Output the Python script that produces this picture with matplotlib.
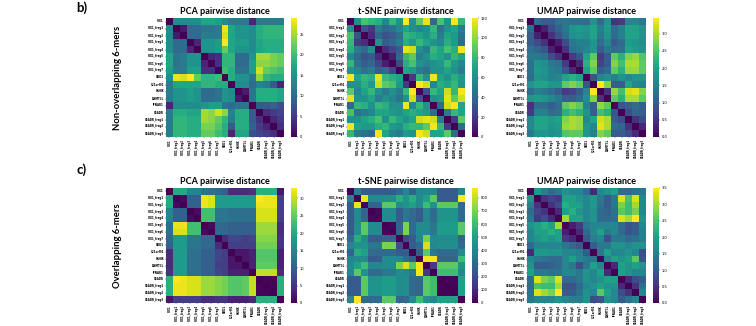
import numpy as np
import matplotlib
matplotlib.use("Agg")
import matplotlib.pyplot as plt
import seaborn as sns

# Sequence labels (rows and columns of every matrix)
labels = ["SIX1", "SIX1_frag1", "SIX1_frag2", "SIX1_frag3", "SIX1_frag4",
          "SIX1_frag5", "SIX1_frag6", "SIX1_frag7", "SOD1", "C21orf91",
          "HUNK", "DNMT3L", "IFNAR1", "CSADR", "CSADR_frag1",
          "CSADR_frag2", "CSADR_frag3"]

# Upper triangles (row i holds columns i+1 .. 16) of the pairwise distance matrices
pca_nonoverlap = [
    [14, 14, 14, 14, 17, 17, 16, 14, 12, 12, 12, 3, 12, 12, 12, 12],
    [2, 10, 10, 11, 11, 12, 28, 17, 15, 15, 14, 18, 19, 19, 19],
    [10, 10, 12, 12, 12, 27, 17, 15, 15, 14, 18, 19, 19, 19],
    [3, 15, 15, 16, 29, 17, 16, 16, 14, 17, 18, 18, 18],
    [15, 15, 16, 22, 17, 15, 15, 14, 17, 18, 18, 18],
    [3, 4, 19, 19, 10, 10, 15, 25, 25, 23, 22],
    [4, 19, 19, 10, 10, 16, 24, 24, 23, 22],
    [20, 18, 11, 11, 16, 27, 22, 21, 20],
    [18, 15, 15, 11, 24, 19, 18, 18],
    [14, 14, 10, 13, 12, 8, 3],
    [2, 11, 18, 18, 18, 17],
    [11, 18, 18, 18, 17],
    [8, 8, 9, 7],
    [4, 5, 6],
    [3, 5],
    [4],
]

tsne_nonoverlap = [
    [60, 85, 80, 75, 55, 80, 60, 120, 60, 90, 115, 40, 85, 60, 118, 80],
    [30, 20, 50, 40, 45, 55, 70, 60, 55, 60, 80, 45, 60, 70, 50],
    [15, 40, 30, 35, 45, 80, 75, 70, 60, 75, 50, 70, 65, 45],
    [60, 35, 40, 50, 75, 65, 80, 70, 60, 55, 75, 65, 40],
    [15, 25, 35, 115, 110, 60, 50, 80, 70, 85, 75, 118],
    [10, 40, 80, 90, 50, 60, 75, 70, 60, 80, 70],
    [25, 75, 85, 60, 55, 60, 65, 80, 65, 55],
    [70, 65, 50, 45, 60, 60, 70, 60, 50],
    [20, 80, 60, 118, 70, 60, 75, 65],
    [120, 110, 55, 75, 70, 80, 60],
    [30, 80, 70, 110, 80, 118],
    [60, 65, 115, 90, 110],
    [40, 110, 118, 70],
    [50, 80, 70],
    [20, 90],
    [40],
]

umap_nonoverlap = [
    [1.2, 1.0, 1.0, 1.3, 1.4, 1.3, 1.3, 1.2, 1.8, 1.2, 1.8, 0.5, 0.6, 1.6, 1.6, 1.4],
    [0.3, 0.8, 1.1, 1.4, 1.8, 1.9, 1.8, 2.0, 1.5, 1.9, 1.2, 1.5, 2.0, 2.0, 1.8],
    [0.5, 0.9, 1.3, 1.7, 1.8, 1.7, 2.0, 1.4, 1.8, 1.2, 1.5, 2.0, 2.0, 1.8],
    [0.3, 0.8, 1.4, 1.5, 1.5, 1.8, 1.2, 1.6, 1.0, 1.2, 1.9, 1.8, 1.7],
    [0.5, 1.3, 1.4, 1.6, 1.8, 1.0, 1.4, 1.2, 1.3, 2.0, 1.9, 1.8],
    [0.6, 0.9, 2.0, 2.6, 0.6, 1.0, 2.6, 2.2, 2.8, 2.9, 2.5],
    [0.4, 2.2, 2.8, 0.7, 1.0, 2.8, 2.4, 3.0, 3.0, 2.6],
    [2.0, 2.6, 1.0, 1.2, 2.6, 2.2, 2.9, 2.9, 2.6],
    [0.9, 1.6, 1.7, 1.5, 1.8, 1.6, 1.8, 1.8],
    [3.45, 2.8, 1.0, 1.0, 2.0, 1.6, 1.5],
    [0.5, 2.9, 2.4, 3.2, 3.3, 2.8],
    [2.6, 2.2, 3.0, 3.0, 2.6],
    [0.9, 1.0, 1.2, 1.0],
    [0.8, 1.1, 1.0],
    [0.5, 0.8],
    [0.4],
]

pca_overlap = [
    [20, 20, 15, 15, 12, 12, 11, 10, 4, 4, 4, 5, 21, 21, 21, 2],
    [1, 10, 10, 32, 31, 18, 18, 18, 18, 18, 18, 33, 32, 32, 6],
    [10, 10, 32, 31, 18, 18, 18, 18, 18, 18, 32, 32, 32, 6],
    [1, 23, 23, 13, 13, 12, 12, 12, 12, 31, 31, 31, 6],
    [23, 23, 13, 13, 12, 12, 12, 12, 31, 31, 31, 6],
    [1, 11, 11, 10, 10, 10, 10, 28, 28, 28, 4],
    [11, 11, 10, 10, 10, 10, 28, 28, 28, 4],
    [4, 7, 7, 6, 7, 27, 27, 27, 5],
    [6, 6, 6, 6, 26, 26, 26, 5],
    [2, 2, 3, 24, 24, 24, 3],
    [2, 3, 24, 24, 24, 3],
    [3, 25, 25, 25, 3],
    [30, 30, 30, 4],
    [0.5, 0.5, 21],
    [0.5, 21],
    [21],
]

tsne_overlap = [
    [380, 250, 250, 250, 250, 250, 300, 400, 280, 400, 420, 400, 250, 250, 250, 400],
    [850, 420, 420, 430, 430, 550, 450, 550, 420, 500, 650, 250, 250, 250, 875],
    [280, 280, 650, 650, 420, 450, 500, 420, 600, 450, 650, 650, 650, 300],
    [20, 420, 420, 250, 350, 300, 250, 400, 300, 450, 450, 450, 300],
    [420, 420, 250, 350, 300, 250, 400, 300, 450, 450, 450, 300],
    [20, 280, 700, 300, 420, 420, 350, 480, 480, 480, 650],
    [280, 700, 300, 420, 420, 350, 480, 480, 480, 650],
    [200, 250, 400, 700, 420, 420, 420, 420, 280],
    [250, 300, 820, 400, 430, 430, 430, 300],
    [250, 650, 350, 300, 300, 300, 420],
    [860, 860, 280, 280, 280, 600],
    [150, 650, 650, 650, 450],
    [600, 600, 600, 400],
    [10, 10, 500],
    [10, 500],
    [500],
]

umap_overlap = [
    [1.9, 1.5, 1.2, 1.4, 1.8, 1.6, 1.6, 1.2, 0.4, 1.6, 1.8, 2.0, 1.2, 1.2, 1.3, 1.4],
    [0.5, 0.7, 0.6, 2.0, 2.0, 1.8, 1.6, 1.9, 1.4, 1.0, 1.4, 3.3, 2.5, 3.3, 1.6],
    [0.5, 0.8, 2.2, 2.0, 2.0, 1.6, 1.9, 1.3, 1.0, 1.4, 2.8, 2.4, 3.0, 1.6],
    [0.4, 2.0, 2.2, 1.8, 1.6, 1.8, 1.2, 1.1, 1.3, 2.6, 2.4, 2.8, 1.6],
    [3.0, 2.0, 2.0, 1.6, 1.8, 1.2, 1.2, 1.3, 3.3, 3.0, 3.5, 1.8],
    [0.3, 0.6, 1.4, 1.6, 1.6, 1.6, 1.6, 1.2, 0.9, 1.0, 1.6],
    [0.4, 1.2, 1.6, 2.0, 1.4, 1.6, 1.2, 0.9, 1.0, 1.5],
    [1.0, 1.5, 1.6, 0.8, 1.4, 1.4, 1.2, 1.3, 1.5],
    [1.0, 1.4, 1.4, 1.8, 1.8, 1.6, 1.8, 1.8],
    [1.4, 2.0, 1.6, 1.6, 1.8, 1.6, 0.8],
    [1.6, 2.0, 1.8, 2.0, 2.6, 0.9],
    [0.4, 2.0, 1.8, 2.0, 1.8],
    [2.0, 1.8, 1.6, 1.6],
    [0.4, 0.8, 1.0],
    [0.5, 1.3],
    [1.6],
]

titles = ["PCA pairwise distance", "t-SNE pairwise distance", "UMAP pairwise distance"]
row_names = ["Non-overlapping 6-mers", "Overlapping 6-mers"]
panel_tags = ["b)", "c)"]
matrices = [[pca_nonoverlap, tsne_nonoverlap, umap_nonoverlap],
            [pca_overlap, tsne_overlap, umap_overlap]]


def full_matrix(upper):
    n = len(upper) + 1
    m = np.zeros((n, n))
    for i, row in enumerate(upper):
        m[i, i + 1:] = row
    return m + m.T


W, H = 756, 326
fig = plt.figure(figsize=(W / 100, H / 100), dpi=100)


def px_axes(x0, y0, x1, y1):
    return fig.add_axes([x0 / W, 1 - y1 / H, (x1 - x0) / W, (y1 - y0) / H])


heat_x = [(166, 284), (347, 465), (527, 646)]
cbar_x = [(291, 297), (472, 478), (653, 659)]
row_y = [(18, 137), (188, 303)]

bold_font = ["Lato", "DejaVu Sans"]

for r in range(2):
    y0, y1 = row_y[r]
    for c in range(3):
        mat = full_matrix(matrices[r][c])
        ax = px_axes(heat_x[c][0], y0, heat_x[c][1], y1)
        cax = px_axes(cbar_x[c][0], y0, cbar_x[c][1], y1)
        sns.heatmap(mat, ax=ax, cbar_ax=cax, cmap="viridis", vmin=0,
                    xticklabels=labels, yticklabels=labels, square=False)
        ax.tick_params(axis="both", length=0.8, width=0.3, pad=0.6, labelsize=1.9)
        for t in ax.get_xticklabels():
            t.set_rotation(90)
            t.set_fontweight("bold")
        for t in ax.get_yticklabels():
            t.set_rotation(0)
            t.set_fontweight("bold")
        cax.tick_params(length=1, width=0.3, pad=0.8, labelsize=2.6)
        ax.set_title(titles[c], pad=3, family=bold_font, fontweight="bold",
                     fontsize=6.5)
    # row annotation
    yc = (y0 + y1) / 2
    fig.text(118 / W, 1 - yc / H, row_names[r], rotation=90, ha="center", va="center",
             family=bold_font, fontweight="bold", fontsize=6.8)
    fig.text(82 / W, 1 - (8 + 162 * r) / H, panel_tags[r], ha="center", va="center",
             family=bold_font, fontweight="bold", fontsize=9.5)

fig.savefig("out.png", dpi=100)
